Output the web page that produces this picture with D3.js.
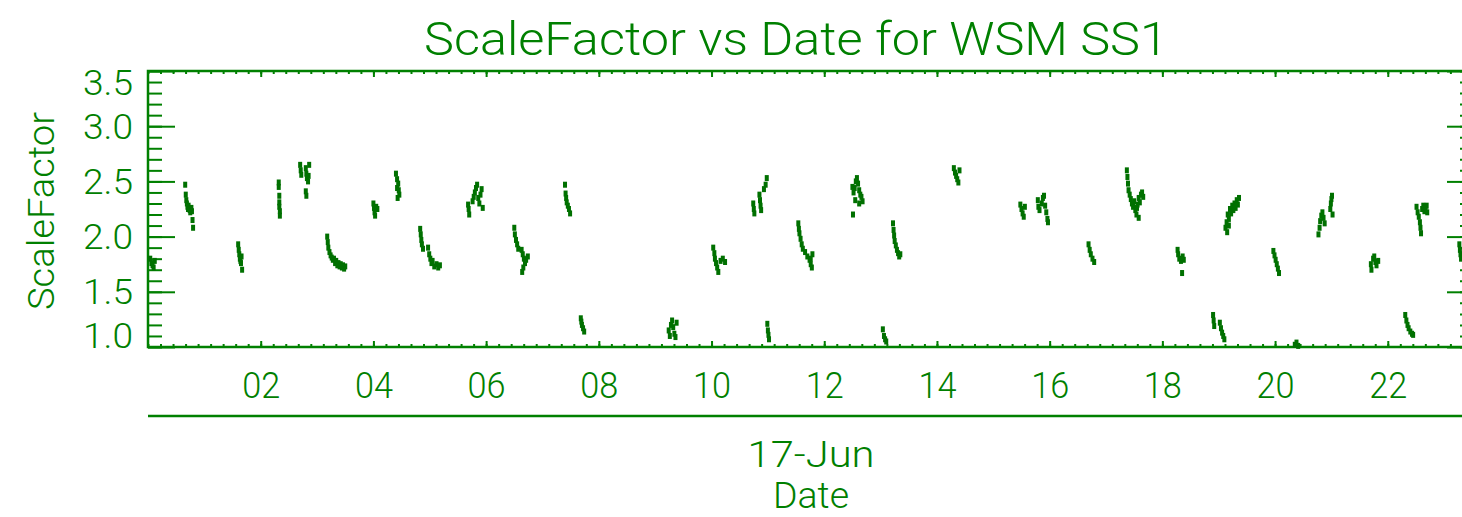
<!DOCTYPE html>
<html>
<head>
<meta charset="utf-8">
<script src="https://cdn.jsdelivr.net/npm/d3@7"></script>
<style>
  body { margin: 0; background: #fff; }
  text { font-family: Roboto, "DejaVu Sans Condensed", sans-serif; font-weight: 300; fill: #008000; }
</style>
</head>
<body>
<div id="chart"></div>
<script>
// hours after 00:00 on 17-Jun, one line per burst of samples
var hours = [
  0.04,0.06,0.08,0.10,0.12,
  0.66,0.67,0.68,0.69,0.70,0.71,0.72,0.74,0.75,0.77,0.78,0.79,0.80,
  1.60,1.61,1.62,1.63,1.64,1.65,1.66,1.67,
  2.32,2.32,2.33,2.33,2.33,2.34,2.34,
  2.70,2.71,2.72,2.80,2.81,2.82,2.84,2.85,2.86,2.80,2.81,
  3.18,3.19,3.20,3.22,3.24,3.26,3.28,3.30,3.32,3.34,3.36,3.38,3.40,3.42,3.44,3.46,3.48,3.50,
  4.00,4.01,4.02,4.03,4.05,4.07,
  4.40,4.42,4.44,4.42,4.45,4.46,4.43,
  4.83,4.84,4.85,4.86,4.88,4.97,4.99,5.01,5.03,5.05,5.08,5.12,5.15,5.18,
  5.68,5.69,5.70,5.76,5.78,5.80,5.82,5.84,5.86,5.88,5.90,5.92,5.94,
  6.50,6.51,6.53,6.55,6.57,6.63,6.65,6.67,6.69,6.66,6.71,6.74,6.64,
  7.40,7.41,7.42,7.43,7.45,7.47,7.49,
  7.68,7.70,7.72,7.74,7.69,
  9.24,9.26,9.28,9.30,9.32,9.34,9.36,9.38,
  10.03,10.05,10.06,10.08,10.10,10.12,10.16,10.20,10.24,
  10.74,10.75,10.76,10.85,10.86,10.87,10.88,10.93,10.96,10.98,
  10.99,11.00,11.01,11.02,
  11.54,11.55,11.56,11.58,11.60,11.62,11.66,11.70,11.74,11.76,11.78,11.79,11.76,
  12.50,12.52,12.54,12.56,12.58,12.60,12.62,12.64,12.55,12.62,12.68,12.51,12.66,
  13.22,13.23,13.24,13.25,13.27,13.29,13.31,13.33,13.35,
  13.04,13.06,13.08,13.10,
  14.30,14.32,14.34,14.36,14.38,14.40,
  15.48,15.50,15.52,15.54,15.56,
  15.79,15.80,15.82,15.86,15.88,15.90,15.92,15.94,15.96,15.97,
  16.69,16.71,16.73,16.76,16.79,
  17.37,17.38,17.39,17.40,17.42,17.44,17.46,17.48,17.50,17.52,17.54,17.56,17.58,17.60,17.62,17.64,17.66,17.58,17.55,
  18.27,18.28,18.30,18.33,18.36,18.38,18.35,
  18.90,18.91,18.92,19.02,19.04,19.06,19.08,19.10,
  19.12,19.14,19.16,19.18,19.20,19.22,19.24,19.26,19.28,19.30,19.32,19.34,19.36,19.15,19.18,
  19.97,19.99,20.01,20.03,20.05,20.07,
  20.35,20.38,20.41,
  20.77,20.79,20.80,20.82,20.84,20.86,20.88,20.98,20.99,21.00,21.01,21.02,
  21.70,21.71,21.74,21.76,21.78,21.80,21.83,
  22.31,22.33,22.35,22.37,22.40,22.43,22.45,
  22.51,22.53,22.55,22.57,22.58,22.59,22.61,22.63,22.65,22.67,22.69,22.70,
  23.27,23.28,23.29,23.30
];
var scaleFactor = [
  1.80,1.76,1.74,1.72,1.78,
  2.47,2.38,2.33,2.30,2.27,2.25,2.28,2.24,2.22,2.26,2.23,2.15,2.08,
  1.93,1.88,1.84,1.80,1.78,1.76,1.82,1.70,
  2.49,2.45,2.37,2.31,2.27,2.23,2.19,
  2.65,2.60,2.56,2.62,2.57,2.53,2.50,2.55,2.65,2.41,2.37,
  2.00,1.95,1.90,1.86,1.83,1.81,1.79,1.80,1.76,1.78,1.74,1.76,1.73,1.75,1.72,1.74,1.71,1.73,
  2.30,2.26,2.22,2.19,2.27,2.25,
  2.57,2.52,2.48,2.44,2.42,2.38,2.35,
  2.07,2.02,1.97,1.93,1.89,1.90,1.84,1.80,1.76,1.78,1.73,1.75,1.72,1.74,
  2.29,2.25,2.20,2.32,2.36,2.40,2.44,2.47,2.35,2.30,2.38,2.43,2.26,
  2.08,2.02,1.97,1.93,1.89,1.88,1.84,1.80,1.76,1.72,1.79,1.82,1.68,
  2.47,2.39,2.35,2.31,2.28,2.25,2.21,
  1.26,1.20,1.17,1.14,1.23,
  1.15,1.10,1.20,1.24,1.18,1.12,1.09,1.22,
  1.90,1.85,1.80,1.76,1.72,1.68,1.78,1.80,1.77,
  2.30,2.25,2.21,2.38,2.33,2.28,2.24,2.43,2.47,2.53,
  1.21,1.15,1.11,1.07,
  2.12,2.07,2.03,1.98,1.93,1.89,1.86,1.82,1.79,1.75,1.72,1.84,1.80,
  2.45,2.40,2.44,2.50,2.53,2.48,2.42,2.38,2.33,2.30,2.32,2.20,2.36,
  2.12,2.06,2.01,1.96,1.92,1.88,1.85,1.82,1.84,
  1.16,1.10,1.07,1.05,
  2.62,2.58,2.55,2.52,2.49,2.60,
  2.29,2.25,2.21,2.18,2.27,
  2.33,2.27,2.24,2.30,2.35,2.37,2.28,2.22,2.16,2.13,
  1.93,1.88,1.84,1.80,1.77,
  2.60,2.54,2.48,2.42,2.38,2.34,2.30,2.27,2.32,2.24,2.20,2.29,2.35,2.31,2.38,2.40,2.36,2.17,2.26,
  1.88,1.84,1.80,1.78,1.82,1.79,1.67,
  1.29,1.24,1.19,1.22,1.17,1.13,1.10,1.07,
  2.08,2.13,2.20,2.16,2.25,2.21,2.28,2.24,2.30,2.26,2.33,2.29,2.35,2.04,2.10,
  1.87,1.83,1.79,1.75,1.71,1.67,
  1.02,1.04,1.01,
  2.02,2.08,2.14,2.19,2.22,2.17,2.12,2.25,2.30,2.34,2.37,2.20,
  1.75,1.70,1.80,1.82,1.77,1.74,1.78,
  1.29,1.24,1.20,1.17,1.14,1.12,1.11,
  2.27,2.22,2.18,2.13,2.08,2.03,2.25,2.28,2.23,2.26,2.28,2.22,
  1.93,1.88,1.84,1.80
];
var hourTicks = [2, 4, 6, 8, 10, 12, 14, 16, 18, 20, 22];
var yTicks = [1.0, 1.5, 2.0, 2.5, 3.0, 3.5];
var dayLabel = "17-Jun";

var green = "#008000";
var W = 1462, H = 517;
var mLeft = 148, mRight = 1474, mTop = 71, mBottom = 347;

var svg = d3.select("#chart").append("svg")
  .attr("width", W).attr("height", H);

var x = d3.scaleLinear().domain([0, 23.53]).range([mLeft, mRight]);
var y = d3.scaleLinear().domain([1.0, 3.5]).range([mBottom, mTop]);

var xMinor = d3.range(0, 23.53, 2 / 9);
var yMinor = d3.range(1.0, 3.5001, 0.1);

function noDomain(g) { g.select(".domain").remove(); g.selectAll("line").attr("stroke", green).attr("stroke-width", 2); }

// bottom axis, ticks pointing up into the plot
svg.append("g").attr("transform", "translate(0," + mBottom + ")")
  .call(d3.axisBottom(x).tickValues(xMinor).tickSize(-3).tickFormat(""))
  .call(noDomain);
var xb = svg.append("g").attr("transform", "translate(0," + mBottom + ")")
  .call(d3.axisBottom(x).tickValues(hourTicks).tickSize(-6).tickPadding(25)
    .tickFormat(d3.format("02d")))
  .call(noDomain);
xb.selectAll("text").attr("font-size", 36).attr("dy", "0.71em")
  .attr("textLength", 38).attr("lengthAdjust", "spacingAndGlyphs");

// top axis
svg.append("g").attr("transform", "translate(0," + mTop + ")")
  .call(d3.axisTop(x).tickValues(xMinor).tickSize(-3).tickFormat(""))
  .call(noDomain);
svg.append("g").attr("transform", "translate(0," + mTop + ")")
  .call(d3.axisTop(x).tickValues(hourTicks).tickSize(-6).tickFormat(""))
  .call(noDomain);

// left axis; the end labels sit inside the frame
svg.append("g").attr("transform", "translate(" + mLeft + ",0)")
  .call(d3.axisLeft(y).tickValues(yMinor).tickSize(-14).tickFormat(""))
  .call(noDomain);
var yl = svg.append("g").attr("transform", "translate(" + mLeft + ",0)")
  .call(d3.axisLeft(y).tickValues(yTicks).tickSize(-27)
    .tickFormat(d3.format(".1f")))
  .call(noDomain);
yl.selectAll("text").attr("font-size", 35).attr("x", -15)
  .attr("dy", function (d) { return d === 3.5 ? "0.68em" : d === 1.0 ? "0" : "0.34em"; })
  .attr("textLength", 50).attr("lengthAdjust", "spacingAndGlyphs");

// right axis
svg.append("g").attr("transform", "translate(" + mRight + ",0)")
  .call(d3.axisRight(y).tickValues(yMinor).tickSize(-14).tickFormat(""))
  .call(noDomain);
svg.append("g").attr("transform", "translate(" + mRight + ",0)")
  .call(d3.axisRight(y).tickValues(yTicks).tickSize(-27).tickFormat(""))
  .call(noDomain);

// frame
svg.append("rect")
  .attr("x", mLeft).attr("y", mTop)
  .attr("width", mRight - mLeft).attr("height", mBottom - mTop)
  .attr("fill", "none").attr("stroke", green).attr("stroke-width", 2.5);

// samples
svg.append("g").selectAll("rect")
  .data(hours)
  .join("rect")
  .attr("x", function (d) { return x(d) - 2; })
  .attr("y", function (d, i) { return y(scaleFactor[i]) - 3; })
  .attr("width", 4)
  .attr("height", 6)
  .attr("fill", "#007000");

// second level of the date axis
svg.append("line")
  .attr("x1", mLeft).attr("x2", mRight)
  .attr("y1", 416).attr("y2", 416)
  .attr("stroke", green).attr("stroke-width", 2.5);

var mid = (mLeft + mRight) / 2;
svg.append("text").attr("x", mid).attr("y", 467)
  .attr("text-anchor", "middle").attr("font-size", 36)
  .attr("textLength", 127).attr("lengthAdjust", "spacingAndGlyphs")
  .text(dayLabel);
svg.append("text").attr("x", mid).attr("y", 508)
  .attr("text-anchor", "middle").attr("font-size", 36)
  .attr("textLength", 76).attr("lengthAdjust", "spacingAndGlyphs")
  .text("Date");

svg.append("text").attr("transform", "translate(54,211) rotate(-90)")
  .attr("text-anchor", "middle").attr("font-size", 37)
  .attr("textLength", 198).attr("lengthAdjust", "spacingAndGlyphs")
  .text("ScaleFactor");

svg.append("text").attr("x", 796).attr("y", 55)
  .attr("text-anchor", "middle").attr("font-size", 46)
  .attr("textLength", 744).attr("lengthAdjust", "spacingAndGlyphs")
  .text("ScaleFactor vs Date for WSM SS1");
</script>
</body>
</html>
